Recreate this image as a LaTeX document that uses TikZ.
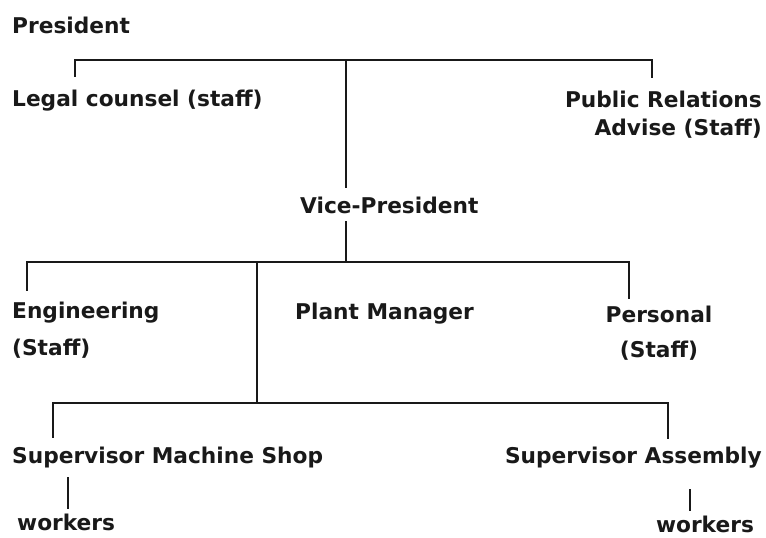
\documentclass[tikz,border=0pt]{standalone}
\usepackage{fontspec}
\setmainfont{DejaVu Sans}
\begin{document}
\begin{tikzpicture}[x=1pt,y=-1pt,
  lbl/.style={inner sep=0pt, font=\bfseries\fontsize{21.7}{25}\selectfont, text=black!90},
  conn/.style={line width=2.6pt, line cap=rect, draw=black!90}]
\useasboundingbox (0,0) rectangle (766,538);
% nodes
\node[lbl, anchor=base west] (pres) at (12,33) {President};
\node[lbl, anchor=base west] (legal) at (12,106) {Legal counsel (staff)};
\node[lbl, anchor=base east] (pr1) at (762,107) {Public Relations};
\node[lbl, anchor=base east] (pr2) at (762,135) {Advise (Staff)};
\node[lbl, anchor=base west] (vp) at (300,213) {Vice-President};
\node[lbl, anchor=base west] (eng) at (12,318) {Engineering};
\node[lbl, anchor=base west] (engs) at (12,355) {(Staff)};
\node[lbl, anchor=base west] (plant) at (295,319) {Plant Manager};
\node[lbl, anchor=base] (pers) at (659,322) {Personal};
\node[lbl, anchor=base] (perss) at (659,357) {(Staff)};
\node[lbl, anchor=base west] (supm) at (12,463) {Supervisor Machine Shop};
\node[lbl, anchor=base east] (supa) at (762,463) {Supervisor Assembly};
\node[lbl, anchor=base west] (wk1) at (17,530) {workers};
\node[lbl, anchor=base] (wk2) at (705,532) {workers};
% junction coordinates
\coordinate (tl) at (75,60);
\coordinate (tm) at (346,60);
\coordinate (tr) at (652,60);
\coordinate (legalTop) at (75,76);
\coordinate (prTop) at (652,77);
\coordinate (vpTop) at (346,187);
\coordinate (vpBot) at (346,222);
\coordinate (ml) at (27,262);
\coordinate (mv) at (346,262);
\coordinate (mm) at (257,262);
\coordinate (mr) at (629,262);
\coordinate (engTop) at (27,290);
\coordinate (persTop) at (629,298);
\coordinate (bl) at (53,403);
\coordinate (bm) at (257,403);
\coordinate (br) at (668,403);
\coordinate (supmTop) at (53,437);
\coordinate (supaTop) at (668,438);
\coordinate (supmBot) at (68,478);
\coordinate (wk1Top) at (68,508);
\coordinate (supaBot) at (690,490);
\coordinate (wk2Top) at (690,510);
% connectors
\draw[conn] (legalTop) -- (tl) -- (tr) -- (prTop);
\draw[conn] (tm) -- (vpTop);
\draw[conn] (vpBot) -- (mv);
\draw[conn] (engTop) -- (ml) -- (mr) -- (persTop);
\draw[conn] (mm) -- (bm);
\draw[conn] (supmTop) -- (bl) -- (br) -- (supaTop);
\draw[conn] (supmBot) -- (wk1Top);
\draw[conn] (supaBot) -- (wk2Top);
\end{tikzpicture}
\end{document}
